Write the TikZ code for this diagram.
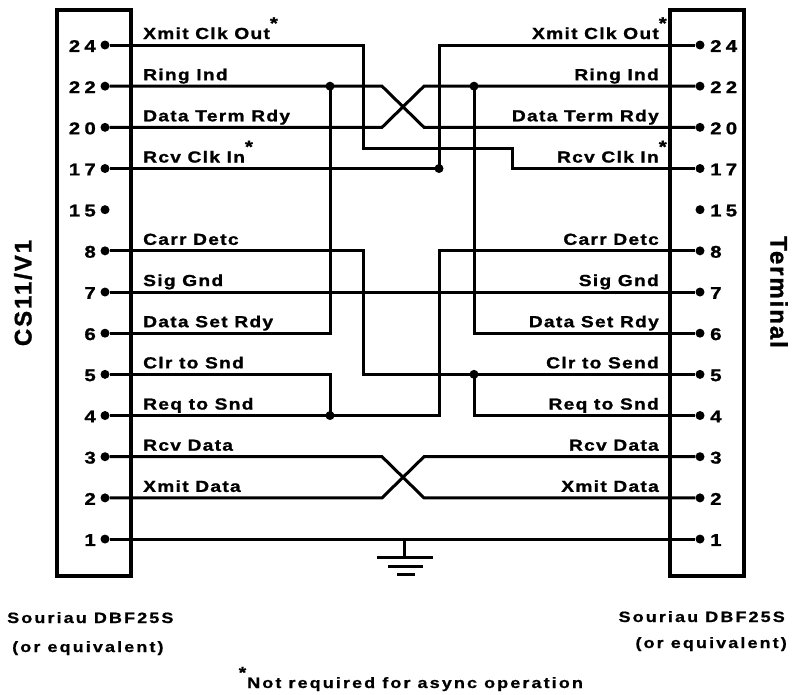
\documentclass[tikz,border=0pt]{standalone}
\usepackage{fontspec}
\setmainfont{Liberation Sans}
\newfontfamily\lblfont{Liberation Sans}[FakeStretch=1.2,LetterSpace=8,FakeBold=1.2]
\newfontfamily\pinfont{Liberation Sans}[FakeStretch=1.2,LetterSpace=25,FakeBold=1.2]
\newfontfamily\notefont{Liberation Sans}[FakeStretch=1.2,LetterSpace=14,FakeBold=0.8]
\newfontfamily\ttlfont{Liberation Sans}[LetterSpace=8,FakeBold=1.2]
\newcommand{\nreqR}{\rlap{\raisebox{10pt}{\fontsize{17}{17}\selectfont *}}}
\newcommand{\nreqL}{\llap{\raisebox{10pt}{\fontsize{16}{16}\selectfont *}\hspace{1pt}}}

\begin{document}
\begin{tikzpicture}[x=1pt,y=-1pt,
  wire/.style={line width=3pt},
  box/.style={line width=4pt},
  pin/.style={circle,fill,inner sep=0pt,minimum size=9pt},
  dot/.style={circle,fill,inner sep=0pt,minimum size=9pt},
  num/.style={inner sep=0pt,font=\fontsize{17}{18}\pinfont\bfseries},
  lbl/.style={inner sep=0pt,font=\fontsize{16}{18}\lblfont\bfseries},
  note/.style={inner sep=0pt,font=\fontsize{15}{16}\notefont\bfseries},
  ttl/.style={inner sep=0pt,font=\fontsize{24}{26}\ttlfont\bfseries}]
  \useasboundingbox (0,0) rectangle (792,694);

  \draw[box] (57,10) rectangle (131,576);
  \draw[box] (670,10) rectangle (744,576);

  \foreach \p/\i in {24/0,22/1,20/2,17/3,15/4,8/5,7/6,6/7,5/8,4/9,3/10,2/11,1/12} {
    \node[pin] (L\p) at (105,45+41.17*\i) {};
    \node[pin] (R\p) at (700,45+41.17*\i) {};
    \node[num,anchor=east] (nL\p) at (96,46+41.17*\i) {\p};
    \node[num,anchor=west] (nR\p) at (710,46+41.17*\i) {\p};
  }

  \coordinate (labL) at (143,0);
  \coordinate (labR) at (659,0);
  \foreach \p/\t in {24/Xmit Clk Out\nreqR,22/Ring Ind,20/Data Term Rdy,17/Rcv Clk In\nreqR,
      8/Carr Detc,7/Sig Gnd,6/Data Set Rdy,5/Clr to Snd,4/Req to Snd,3/Rcv Data,2/Xmit Data}
    \node[lbl,anchor=base west] (tL\p) at ([yshift=6pt]labL |- L\p) {\t};
  \foreach \p/\t in {24/Xmit Clk Out\nreqR,22/Ring Ind,20/Data Term Rdy,17/Rcv Clk In\nreqR,
      8/Carr Detc,7/Sig Gnd,6/Data Set Rdy,5/Clr to Send,4/Req to Snd,3/Rcv Data,2/Xmit Data}
    \node[lbl,anchor=base east] (tR\p) at ([yshift=6pt]labR |- R\p) {\t};

  \coordinate (cA) at (330,0);
  \coordinate (cB) at (363,0);
  \coordinate (cC) at (439,0);
  \coordinate (cD) at (474,0);
  \coordinate (cE) at (512,0);
  \coordinate (xl) at (382,0);
  \coordinate (xr) at (424,0);
  \coordinate (mid) at (0,148);

  \node[dot] (dA) at (cA |- L22) {};
  \node[dot] (dC) at (cC |- L17) {};
  \node[dot] (dD) at (cD |- R22) {};
  \node[dot] (dE) at (cD |- R5) {};
  \node[dot] (dF) at (cA |- L4) {};

  \draw[wire] (L24) -| (cB |- mid) -| (cE |- R17) -- (R17);
  \draw[wire] (L17) -| (cC |- R24) -- (R24);
  \draw[wire] (L22) -- (xl |- L22) -- (xr |- R20) -- (R20);
  \draw[wire] (L20) -- (xl |- L20) -- (xr |- R22) -- (R22);
  \draw[wire] (L6) -| (dA.center);
  \draw[wire] (R6) -| (dD.center);
  \draw[wire] (L8) -| (cB |- R5) -- (R5);
  \draw[wire] (dE.center) |- (R4);
  \draw[wire] (R8) -| (cC |- L4) -- (L4);
  \draw[wire] (L5) -| (dF.center);
  \draw[wire] (L7) -- (R7);
  \draw[wire] (L3) -- (xl |- L3) -- (xr |- R2) -- (R2);
  \draw[wire] (L2) -- (xl |- L2) -- (xr |- R3) -- (R3);
  \draw[wire] (L1) -- (R1);

  \coordinate (gnd) at (404,557);
  \draw[wire] (gnd |- L1) -- (gnd);
  \draw[wire] ([xshift=-27pt]gnd) -- ([xshift=29pt]gnd);
  \draw[wire] ([xshift=-16pt,yshift=-9pt]gnd) -- ([xshift=19pt,yshift=-9pt]gnd);
  \draw[wire] ([xshift=-7pt,yshift=-17pt]gnd) -- ([xshift=11pt,yshift=-17pt]gnd);

  \node[ttl,rotate=90] (cs) at (23,293) {CS11/V1};
  \node[ttl,rotate=-90] (term) at (779,292) {Terminal};

  \node[note,anchor=base west] (srcL) at (7,623) {Souriau DBF25S};
  \node[note,anchor=base west] (eqL) at (12,652) {(or equivalent)};
  \node[note,anchor=base east] (srcR) at (785,622) {Souriau DBF25S};
  \node[note,anchor=base east] (eqR) at (787,648) {(or equivalent)};
  \node[note,anchor=base west] (foot) at (247,688) {\nreqL Not required for async operation};
\end{tikzpicture}
\end{document}
